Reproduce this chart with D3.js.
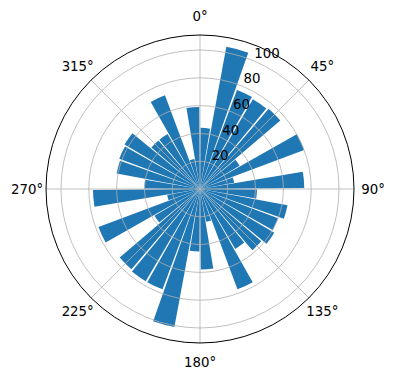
<!DOCTYPE html>
<html><head><meta charset="utf-8">
<script src="https://cdn.jsdelivr.net/npm/d3@7"></script>
<style>body{margin:0;background:#fff;} svg{display:block;font-family:"DejaVu Sans",sans-serif;}</style>
</head><body><svg id="c" width="396" height="380"></svg>
<script>
const angles = [5,15,25,35,45,55,65,75,85,95,105,115,125,135,145,155,165,175,185,195,205,215,225,235,245,255,265,275,285,295,305,315,325,335,345,355];
const values = [44,104,76,75,76,33,80,25,75, 41,64,60,62,58,50,77,24,58, 45,101,77,77,76,38,78,24,77, 40,61,62,63,46,46,72,22,59];
const radialTicks = [20,40,60,80,100];
const angleTicks = [0,45,90,135,180,225,270,315];
const angleTickLabels = ["0°","45°","90°","135°","180°","225°","270°","315°"];
const barWidthDeg = 9;
const rMax = 110.8;

const cx = 200, cy = 189, R = 154;
const svg = d3.select("#c");
const g = svg.append("g").attr("transform", `translate(${cx},${cy})`);
const r = d3.scaleLinear().domain([0, rMax]).range([0, R]);
const toRad = d => d * Math.PI / 180;

const arc = d3.arc().innerRadius(0)
  .outerRadius(d => r(d.v))
  .startAngle(d => toRad(d.a - barWidthDeg/2))
  .endAngle(d => toRad(d.a + barWidthDeg/2));

const data = angles.map((a,i)=>({a, v: values[i]}));
g.selectAll("path.bar").data(data).enter().append("path")
  .attr("class","bar").attr("d", arc).attr("fill","#1f77b4");

// grid
g.selectAll("circle.grid").data(radialTicks).enter().append("circle")
  .attr("r", d=>r(d)).attr("fill","none").attr("stroke","#b0b0b0").attr("stroke-width",0.8);
g.selectAll("line.grid").data(angleTicks).enter().append("line")
  .attr("x1",0).attr("y1",0)
  .attr("x2", d=>R*Math.sin(toRad(d))).attr("y2", d=>-R*Math.cos(toRad(d)))
  .attr("stroke","#b0b0b0").attr("stroke-width",0.8);
// spine
g.append("circle").attr("r", R).attr("fill","none").attr("stroke","#000").attr("stroke-width",1);

// radial labels
const rlab = 22.5;
g.selectAll("text.rt").data(radialTicks).enter().append("text")
  .attr("x", d=>r(d)*Math.sin(toRad(rlab)) + 1)
  .attr("y", d=>-r(d)*Math.cos(toRad(rlab)) - 3)
  .attr("font-size", 13.33).attr("fill","#000")
  .text(d=>d);

// angular labels
const rr = R + 19;
g.selectAll("text.at").data(angleTicks).enter().append("text")
  .attr("font-size",13.33).attr("text-anchor","middle")
  .attr("dominant-baseline","central")
  .attr("x", d=>rr*Math.sin(toRad(d))).attr("y", d=>-rr*Math.cos(toRad(d)))
  .text((d,i)=>angleTickLabels[i]);
</script></body></html>
